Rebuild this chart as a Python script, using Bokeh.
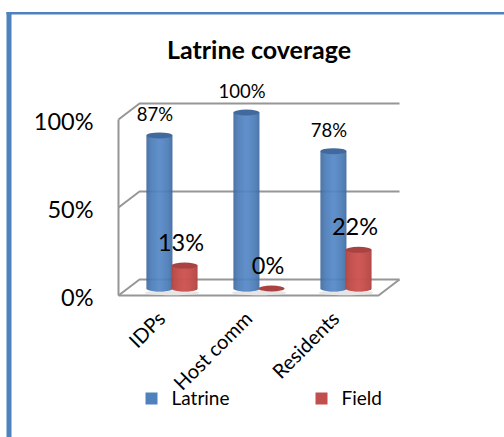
import math

from bokeh.core.properties import value
from bokeh.embed import file_html
from bokeh.models import ColumnDataSource, Range1d
from bokeh.plotting import figure
from bokeh.resources import INLINE

categories = ["IDPs", "Host comm", "Residents"]
latrine = [87, 100, 78]
field = [13, 0, 22]
ticks = [0, 50, 100]
tick_labels = ["0%", "50%", "100%"]
series_names = ["Latrine", "Field"]

FONT = value("Lato")
W, H = 504, 437

# Pixel-per-unit layout of the oblique 3D box
PX_PER_CAT = 87.0
PX_PER_PCT = 1.76
ZERO_X_PX = 171.5
ZERO_Y_PX = 288.0


def sx(px):
    return (px - ZERO_X_PX) / PX_PER_CAT


def sy(py):
    return (ZERO_Y_PX - py) / PX_PER_PCT


p = figure(
    width=W, height=H, output_backend="svg", toolbar_location=None,
    x_range=Range1d(sx(0), sx(W)), y_range=Range1d(sy(H), sy(0)),
    min_border=0, outline_line_color=None,
    x_axis_type=None, y_axis_type=None,
)
p.grid.visible = False
p.background_fill_color = "white"
p.border_fill_color = "white"

# Page frame: left and top rules
p.quad(left=[sx(6)], right=[sx(11)], top=[sy(11.5)], bottom=[sy(H)],
       fill_color="#4f81bd", line_color=None)
p.quad(left=[sx(6)], right=[sx(W)], top=[sy(11.5)], bottom=[sy(14)],
       fill_color="#4f81bd", line_color=None)

# Back wall gridlines, side wall diagonals and the floor
front_left = sx(118)
back_left = sx(139)
front_right = sx(378)
back_right = sx(399)
depth_v = 16 / PX_PER_PCT
base_back = sy(279)
GRID = "#969696"


def back_y(t):
    return base_back + t


def front_y(t):
    return base_back - depth_v + t


grid_xs, grid_ys = [], []
for t in ticks:
    grid_xs.append([front_left, back_left, back_right])
    grid_ys.append([front_y(t), back_y(t), back_y(t)])
grid_xs.append([front_left, front_left])
grid_ys.append([front_y(0), front_y(100)])
grid_xs.append([front_left, front_right, back_right])
grid_ys.append([front_y(0), front_y(0), back_y(0)])
p.multi_line(grid_xs, grid_ys, line_color=GRID, line_width=2)

# Cylinders: one-pixel strips carry the horizontal shading
CYL_W = 26 / PX_PER_CAT
CYL_H = 6.0 / PX_PER_PCT


def mix(a, b, t):
    return "#" + "".join(
        f"{round(a[i] + (b[i] - a[i]) * t):02x}" for i in range(3)
    )


def cylinder(center, val, edge, mid, top_color):
    n = 26
    left, right, top, bottom, colors = [], [], [], [], []
    ry = CYL_H / 2
    for i in range(n):
        u = (i + 0.5) / n * 2 - 1
        x0 = center - CYL_W / 2 + i * CYL_W / n
        left.append(x0)
        right.append(x0 + CYL_W / n * 1.4 if i < n - 1 else x0 + CYL_W / n)
        top.append(max(val, 0))
        bottom.append(-ry * math.sqrt(1 - u * u))
        colors.append(mix(edge, mid, max(0.0, 1 - abs(u)) ** 0.45))
    if val > 0:
        p.quad(left=left, right=right, top=top, bottom=bottom,
               fill_color=colors, line_color=None)
    p.ellipse([center], [val], width=CYL_W, height=CYL_H,
              fill_color=top_color, line_color=None)


BLUE_EDGE, BLUE_MID, BLUE_TOP = (58, 98, 148), (84, 136, 200), "#41699c"
RED_EDGE, RED_MID, RED_TOP = (168, 66, 63), (207, 86, 83), "#a84341"

for i in range(len(categories)):
    # contact shadow on the floor
    p.ellipse([i], [-2.4], width=2 * CYL_W + 0.03, height=5 / PX_PER_PCT,
              fill_color="#e6e6e6", line_color=None)
for i in range(len(categories)):
    cylinder(i - CYL_W / 2 + 0.005, latrine[i], BLUE_EDGE, BLUE_MID, BLUE_TOP)
    cylinder(i + CYL_W / 2 - 0.005, field[i], RED_EDGE, RED_MID, RED_TOP)

# Value labels
text_color = "#000000"
label_shift = 4 / PX_PER_CAT
p.text([i - CYL_W / 2 - label_shift for i in range(3)], [v + 12 for v in latrine],
       text=[f"{v}%" for v in latrine], text_font=FONT, text_font_size="18.5px",
       text_align="center", text_baseline="middle", text_color=text_color)
p.text([i + CYL_W / 2 - label_shift for i in range(3)], [v + 13.5 for v in field],
       text=[f"{v}%" for v in field], text_font=FONT, text_font_size="23.5px",
       text_align="center", text_baseline="middle", text_color=text_color)

# Value axis labels, aligned with the front edge of the side wall
p.text([sx(93)] * 3, [front_y(t) - 0.6 for t in ticks], text=tick_labels,
       text_font=FONT, text_font_size="23.5px", text_align="right",
       text_baseline="middle", text_color=text_color)

# Category labels, rotated
p.text([i - 11 / PX_PER_CAT for i in range(3)], [sy(314)] * 3, text=categories,
       text_font=FONT, text_font_size="20px", text_align="right",
       text_baseline="middle", angle=math.radians(45), text_color=text_color)

# Title
p.text([sx(258.5)], [sy(48)], text=["Latrine coverage"], text_font=FONT,
       text_font_size="25px", text_font_style="bold", text_align="center",
       text_baseline="middle", text_color=text_color)

# Legend
legend_colors = ["#4f81bd", "#c0504d"]
legend_src = ColumnDataSource(dict(
    left=[sx(145), sx(315)], right=[sx(157), sx(327)],
    top=[sy(392), sy(392)], bottom=[sy(404), sy(404)], color=legend_colors,
))
p.quad(left="left", right="right", top="top", bottom="bottom",
       fill_color="color", line_color=None, source=legend_src)
p.text([sx(171), sx(341)], [sy(397)] * 2, text=series_names, text_font=FONT,
       text_font_size="19px", text_align="left", text_baseline="middle",
       text_color=text_color)

open("out.html", "w").write(file_html(p, INLINE))
